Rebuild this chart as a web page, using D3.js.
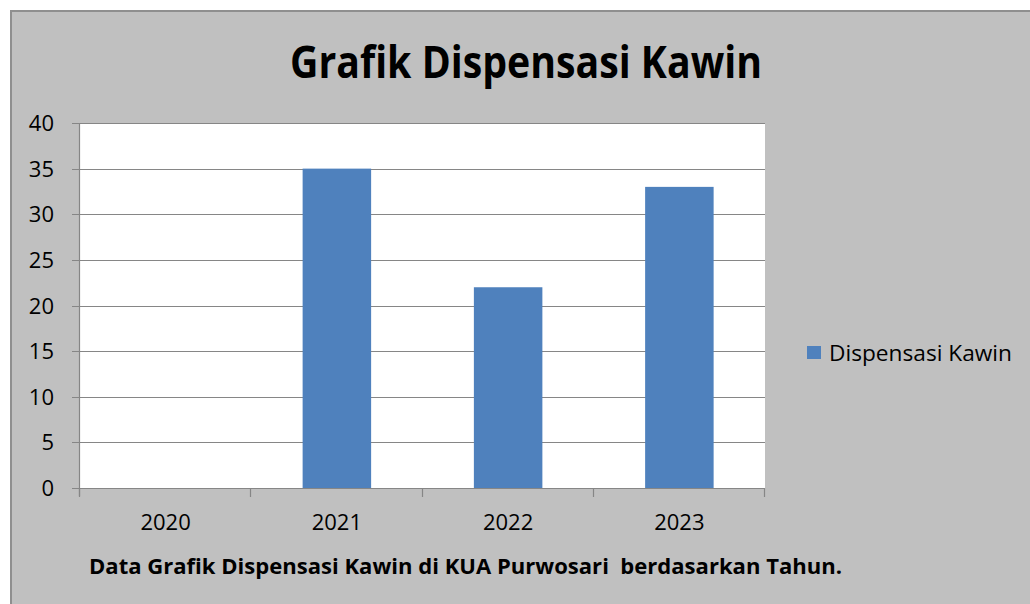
<!DOCTYPE html>
<html>
<head>
<meta charset="utf-8">
<script src="https://cdn.jsdelivr.net/npm/d3@7"></script>
<style>
  html, body { margin: 0; padding: 0; background: #ffffff; }
  svg text { font-family: "Open Sans", "Noto Sans", sans-serif; fill: #000; }
</style>
</head>
<body>
<div id="chart"></div>
<script>
'use strict';

// ── Data ──────────────────────────────────────────────────────────────────
const years  = ['2020', '2021', '2022', '2023'];
const values = [0, 35, 22, 33];
const yTicks = [0, 5, 10, 15, 20, 25, 30, 35, 40];

const TITLE    = 'Grafik Dispensasi Kawin';
const SERIES   = 'Dispensasi Kawin';
const SUBTITLE = 'Data Grafik Dispensasi Kawin di KUA Purwosari  berdasarkan Tahun.';

// ── Layout ────────────────────────────────────────────────────────────────
const W = 1030, H = 604;
const PLOT = { left: 80, right: 765, top: 123, bottom: 488 };
const BAR_COLOR  = '#4f81bd';
const GRID_COLOR = '#868686';
const TICK_FONT  = '22px';

const svg = d3.select('#chart').append('svg')
  .attr('width', W)
  .attr('height', H);

// chart area background + border
svg.append('rect')
  .attr('x', 11).attr('y', 11)
  .attr('width', W + 20).attr('height', H + 20)
  .attr('fill', '#c0c0c0')
  .attr('stroke', '#8f8f8f')
  .attr('stroke-width', 2);

// plot area
svg.append('rect')
  .attr('x', PLOT.left).attr('y', PLOT.top)
  .attr('width', PLOT.right - PLOT.left)
  .attr('height', PLOT.bottom - PLOT.top)
  .attr('fill', '#ffffff');

// scales
const x = d3.scaleBand()
  .domain(years)
  .range([PLOT.left, PLOT.right])
  .paddingInner(0.6)
  .paddingOuter(0.3);

const y = d3.scaleLinear()
  .domain([0, 40])
  .range([PLOT.bottom, PLOT.top]);

// gridlines
svg.append('g')
  .selectAll('line')
  .data(yTicks)
  .enter().append('line')
  .attr('x1', PLOT.left - 8)
  .attr('x2', PLOT.right)
  .attr('y1', d => Math.round(y(d)) + 0.5)
  .attr('y2', d => Math.round(y(d)) + 0.5)
  .attr('stroke', GRID_COLOR)
  .attr('stroke-width', 1.2);

// y axis line
svg.append('line')
  .attr('x1', PLOT.left - 0.5).attr('x2', PLOT.left - 0.5)
  .attr('y1', PLOT.top).attr('y2', PLOT.bottom + 8)
  .attr('stroke', GRID_COLOR)
  .attr('stroke-width', 1.2);

// y labels
svg.append('g')
  .selectAll('text')
  .data(yTicks)
  .enter().append('text')
  .attr('x', 54)
  .attr('y', d => y(d) + 8)
  .attr('text-anchor', 'end')
  .style('font-size', TICK_FONT)
  .text(d => d);

// bars
svg.append('g')
  .selectAll('rect')
  .data(values)
  .enter().append('rect')
  .attr('x', (d, i) => x(years[i]))
  .attr('y', d => y(d))
  .attr('width', x.bandwidth())
  .attr('height', d => y(0) - y(d))
  .attr('fill', BAR_COLOR);

// x axis ticks at category boundaries
const step = x.step();
const xBounds = d3.range(years.length + 1).map(i => PLOT.left + i * step);
svg.append('g')
  .selectAll('line')
  .data(xBounds)
  .enter().append('line')
  .attr('x1', d => Math.round(d) - 0.5)
  .attr('x2', d => Math.round(d) - 0.5)
  .attr('y1', PLOT.bottom)
  .attr('y2', PLOT.bottom + 9)
  .attr('stroke', GRID_COLOR)
  .attr('stroke-width', 1.2);

// x labels
svg.append('g')
  .selectAll('text')
  .data(years)
  .enter().append('text')
  .attr('x', d => x(d) + x.bandwidth() / 2)
  .attr('y', 530)
  .attr('text-anchor', 'middle')
  .style('font-size', TICK_FONT)
  .text(d => d);

// title
svg.append('text')
  .attr('x', 526)
  .attr('y', 78)
  .attr('text-anchor', 'middle')
  .attr('textLength', 472)
  .attr('lengthAdjust', 'spacingAndGlyphs')
  .style('font-size', '45px')
  .style('font-weight', 'bold')
  .text(TITLE);

// legend
svg.append('rect')
  .attr('x', 807).attr('y', 346)
  .attr('width', 14).attr('height', 13)
  .attr('fill', BAR_COLOR);
svg.append('text')
  .attr('x', 829)
  .attr('y', 361)
  .attr('textLength', 183)
  .attr('lengthAdjust', 'spacingAndGlyphs')
  .style('font-size', TICK_FONT)
  .text(SERIES);

// subtitle
svg.append('text')
  .attr('x', 89)
  .attr('y', 574)
  .attr('textLength', 753)
  .attr('lengthAdjust', 'spacingAndGlyphs')
  .style('font-size', '21px')
  .style('font-weight', 'bold')
  .style('white-space', 'pre')
  .text(SUBTITLE);
</script>
</body>
</html>
